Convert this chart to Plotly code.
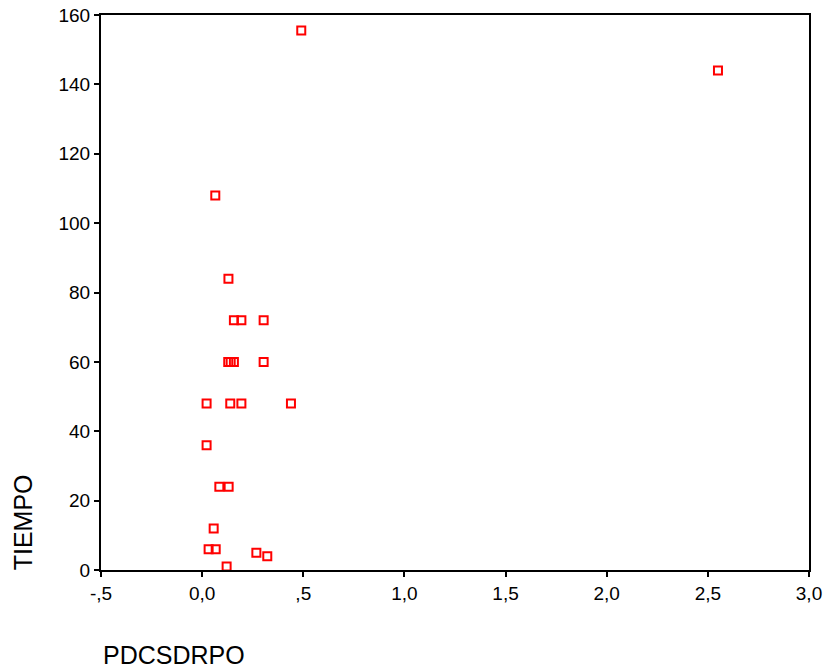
import plotly.graph_objects as go

# Data
pdcsdrpo = [0.49, 2.55, 0.065, 0.13,
            0.157, 0.194, 0.304,
            0.129, 0.141, 0.157, 0.304,
            0.022, 0.139, 0.194, 0.439,
            0.022,
            0.085, 0.131,
            0.057,
            0.032, 0.067,
            0.268, 0.322,
            0.121]
tiempo = [155.5, 144, 108, 84,
          72, 72, 72,
          60, 60, 60, 60,
          48, 48, 48, 48,
          36,
          24, 24,
          12,
          6, 6,
          5, 4,
          1]

x_tickvals = [-0.5, 0.0, 0.5, 1.0, 1.5, 2.0, 2.5, 3.0]
x_ticktext = ["-,5", "0,0", ",5", "1,0", "1,5", "2,0", "2,5", "3,0"]
y_tickvals = [0, 20, 40, 60, 80, 100, 120, 140, 160]

FONT = "Liberation Sans, Arial, sans-serif"

fig = go.Figure()
fig.add_trace(go.Scatter(
    x=pdcsdrpo, y=tiempo, mode="markers",
    marker=dict(symbol="square-open", size=8, color="#ff0000",
                line=dict(width=2, color="#ff0000")),
    cliponaxis=False, showlegend=False,
))

axis_common = dict(
    showgrid=False, zeroline=False, showline=True, linecolor="black",
    linewidth=2, ticks="outside", ticklen=5, tickwidth=2, tickcolor="black",
    mirror=True, automargin=False,
    tickfont=dict(family=FONT, size=19, color="black"),
)

fig.update_xaxes(range=[-0.5, 3.0], tickvals=x_tickvals, ticktext=x_ticktext,
                 **axis_common)
fig.update_yaxes(range=[0, 160], tickvals=y_tickvals, **axis_common)

fig.update_layout(
    width=826, height=671,
    margin=dict(l=101, r=17, t=15, b=101),
    paper_bgcolor="white", plot_bgcolor="white",
    font=dict(family=FONT, color="black"),
    annotations=[
        dict(text="TIEMPO", xref="paper", yref="paper", x=-0.11, y=-0.004,
             xanchor="center", yanchor="bottom", textangle=-90,
             showarrow=False, font=dict(family=FONT, size=25, color="black")),
        dict(text="PDCSDRPO", xref="paper", yref="paper", x=0.0, y=-0.153,
             xanchor="left", yanchor="middle",
             showarrow=False, font=dict(family=FONT, size=25, color="black")),
    ],
)

fig.write_html("out.html")
